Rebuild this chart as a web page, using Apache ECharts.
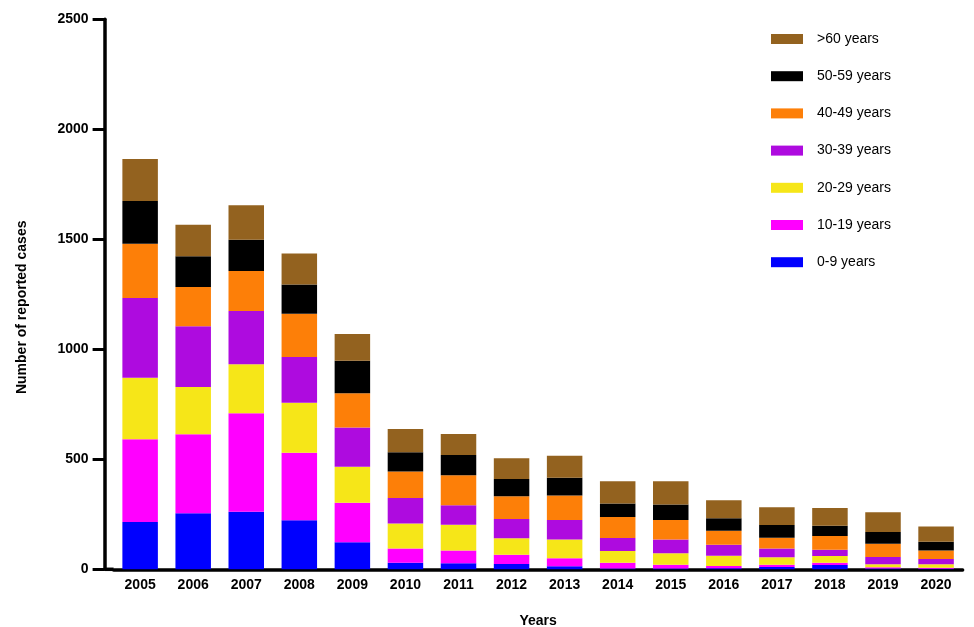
<!DOCTYPE html>
<html>
<head>
<meta charset="utf-8">
<script src="https://cdn.jsdelivr.net/npm/echarts@6/dist/echarts.min.js"></script>
<style>
  html, body { margin: 0; padding: 0; background: #ffffff; }
  #chart { width: 974px; height: 627px; }
</style>
</head>
<body>
<div id="chart"></div>
<script>
// Reported cases per year, split by age group
const years = ['2005','2006','2007','2008','2009','2010','2011','2012','2013','2014','2015','2016','2017','2018','2019','2020'];

const age0to9   = [215, 255, 262, 223, 123, 30, 27, 24, 14, 4, 4, 5, 10, 20, 4, 3];
const age10to19 = [376, 359, 447, 307, 180, 65, 59, 42, 36, 26, 17, 10, 11, 10, 5, 4];
const age20to29 = [280, 215, 223, 227, 163, 113, 117, 75, 86, 53, 52, 47, 34, 30, 14, 16];
const age30to39 = [362, 276, 242, 208, 178, 116, 88, 88, 88, 59, 62, 50, 40, 29, 33, 24];
const age40to49 = [247, 178, 182, 197, 156, 120, 136, 103, 111, 96, 89, 63, 48, 62, 60, 38];
const age50to59 = [194, 140, 142, 132, 148, 88, 93, 78, 81, 61, 71, 57, 58, 47, 54, 40];
const age60plus = [191, 143, 157, 141, 121, 106, 95, 95, 100, 101, 105, 82, 81, 81, 89, 69];

const groupNames = ['0-9 years', '10-19 years', '20-29 years', '30-39 years', '40-49 years', '50-59 years', '>60 years'];
const groupValues = [age0to9, age10to19, age20to29, age30to39, age40to49, age50to59, age60plus];
const groupColors = ['#0000FF', '#FF00FF', '#F6E618', '#AE0BDF', '#FD7F08', '#000000', '#93621F'];

const yTicks = { min: 0, max: 2500, interval: 500 };

// Plot frame
const GRID_LEFT = 113.6, GRID_TOP = 19.3, GRID_W = 849, GRID_H = 550;
const Y_AXIS_OFFSET = 9;
const FONT = '"Liberation Sans", Arial, Helvetica, sans-serif';

const chart = echarts.init(document.getElementById('chart'), null, { renderer: 'canvas' });

const series = groupNames.map((name, i) => ({
  name: name,
  type: 'bar',
  stack: 'cases',
  barWidth: 35.5,
  data: groupValues[i],
  itemStyle: { color: groupColors[i] },
  emphasis: { disabled: true }
}));

chart.setOption({
  animation: false,
  backgroundColor: '#ffffff',
  grid: {
    left: GRID_LEFT, top: GRID_TOP, width: GRID_W, height: GRID_H,
    containLabel: false,
    outerBoundsMode: 'none'
  },
  legend: {
    orient: 'vertical',
    left: 771,
    top: 32,
    padding: 0,
    itemWidth: 32,
    itemHeight: 10,
    itemGap: 23.2,
    icon: 'rect',
    selectedMode: false,
    data: groupNames.slice().reverse(),
    textStyle: { fontFamily: FONT, fontSize: 14, color: '#000000', padding: [0, 0, 0, 9] }
  },
  xAxis: {
    type: 'category',
    data: years,
    name: 'Years',
    nameLocation: 'middle',
    nameGap: 45,
    nameTextStyle: { fontFamily: FONT, fontSize: 14, fontWeight: 'bold', color: '#000000' },
    axisLine: { lineStyle: { color: '#000000', width: 3.5 } },
    axisTick: { alignWithLabel: true, length: 9, lineStyle: { color: '#000000', width: 3 } },
    axisLabel: { fontFamily: FONT, fontSize: 14, fontWeight: 'bold', color: '#000000', margin: 9 }
  },
  yAxis: {
    type: 'value',
    min: yTicks.min,
    max: yTicks.max,
    interval: yTicks.interval,
    offset: Y_AXIS_OFFSET,
    name: 'Number of reported cases',
    nameLocation: 'middle',
    nameGap: 75,
    nameTextStyle: {
      fontFamily: FONT, fontSize: 14, fontWeight: 'bold', color: '#000000',
      padding: [0, 26, 0, 0]
    },
    splitLine: { show: false },
    axisLine: { show: true, lineStyle: { color: '#000000', width: 3.5 } },
    axisTick: { show: true, length: 12, lineStyle: { color: '#000000', width: 3 } },
    axisLabel: {
      fontFamily: FONT, fontSize: 14, fontWeight: 'bold', color: '#000000', margin: 16,
      formatter: (v) => String(v)
    }
  },
  // x axis line continues left to meet the offset y axis
  graphic: [{
    type: 'line',
    shape: { x1: GRID_LEFT - Y_AXIS_OFFSET, y1: GRID_TOP + GRID_H, x2: GRID_LEFT, y2: GRID_TOP + GRID_H },
    style: { stroke: '#000000', lineWidth: 3.5 },
    z: 10
  }],
  series: series
});
</script>
</body>
</html>
